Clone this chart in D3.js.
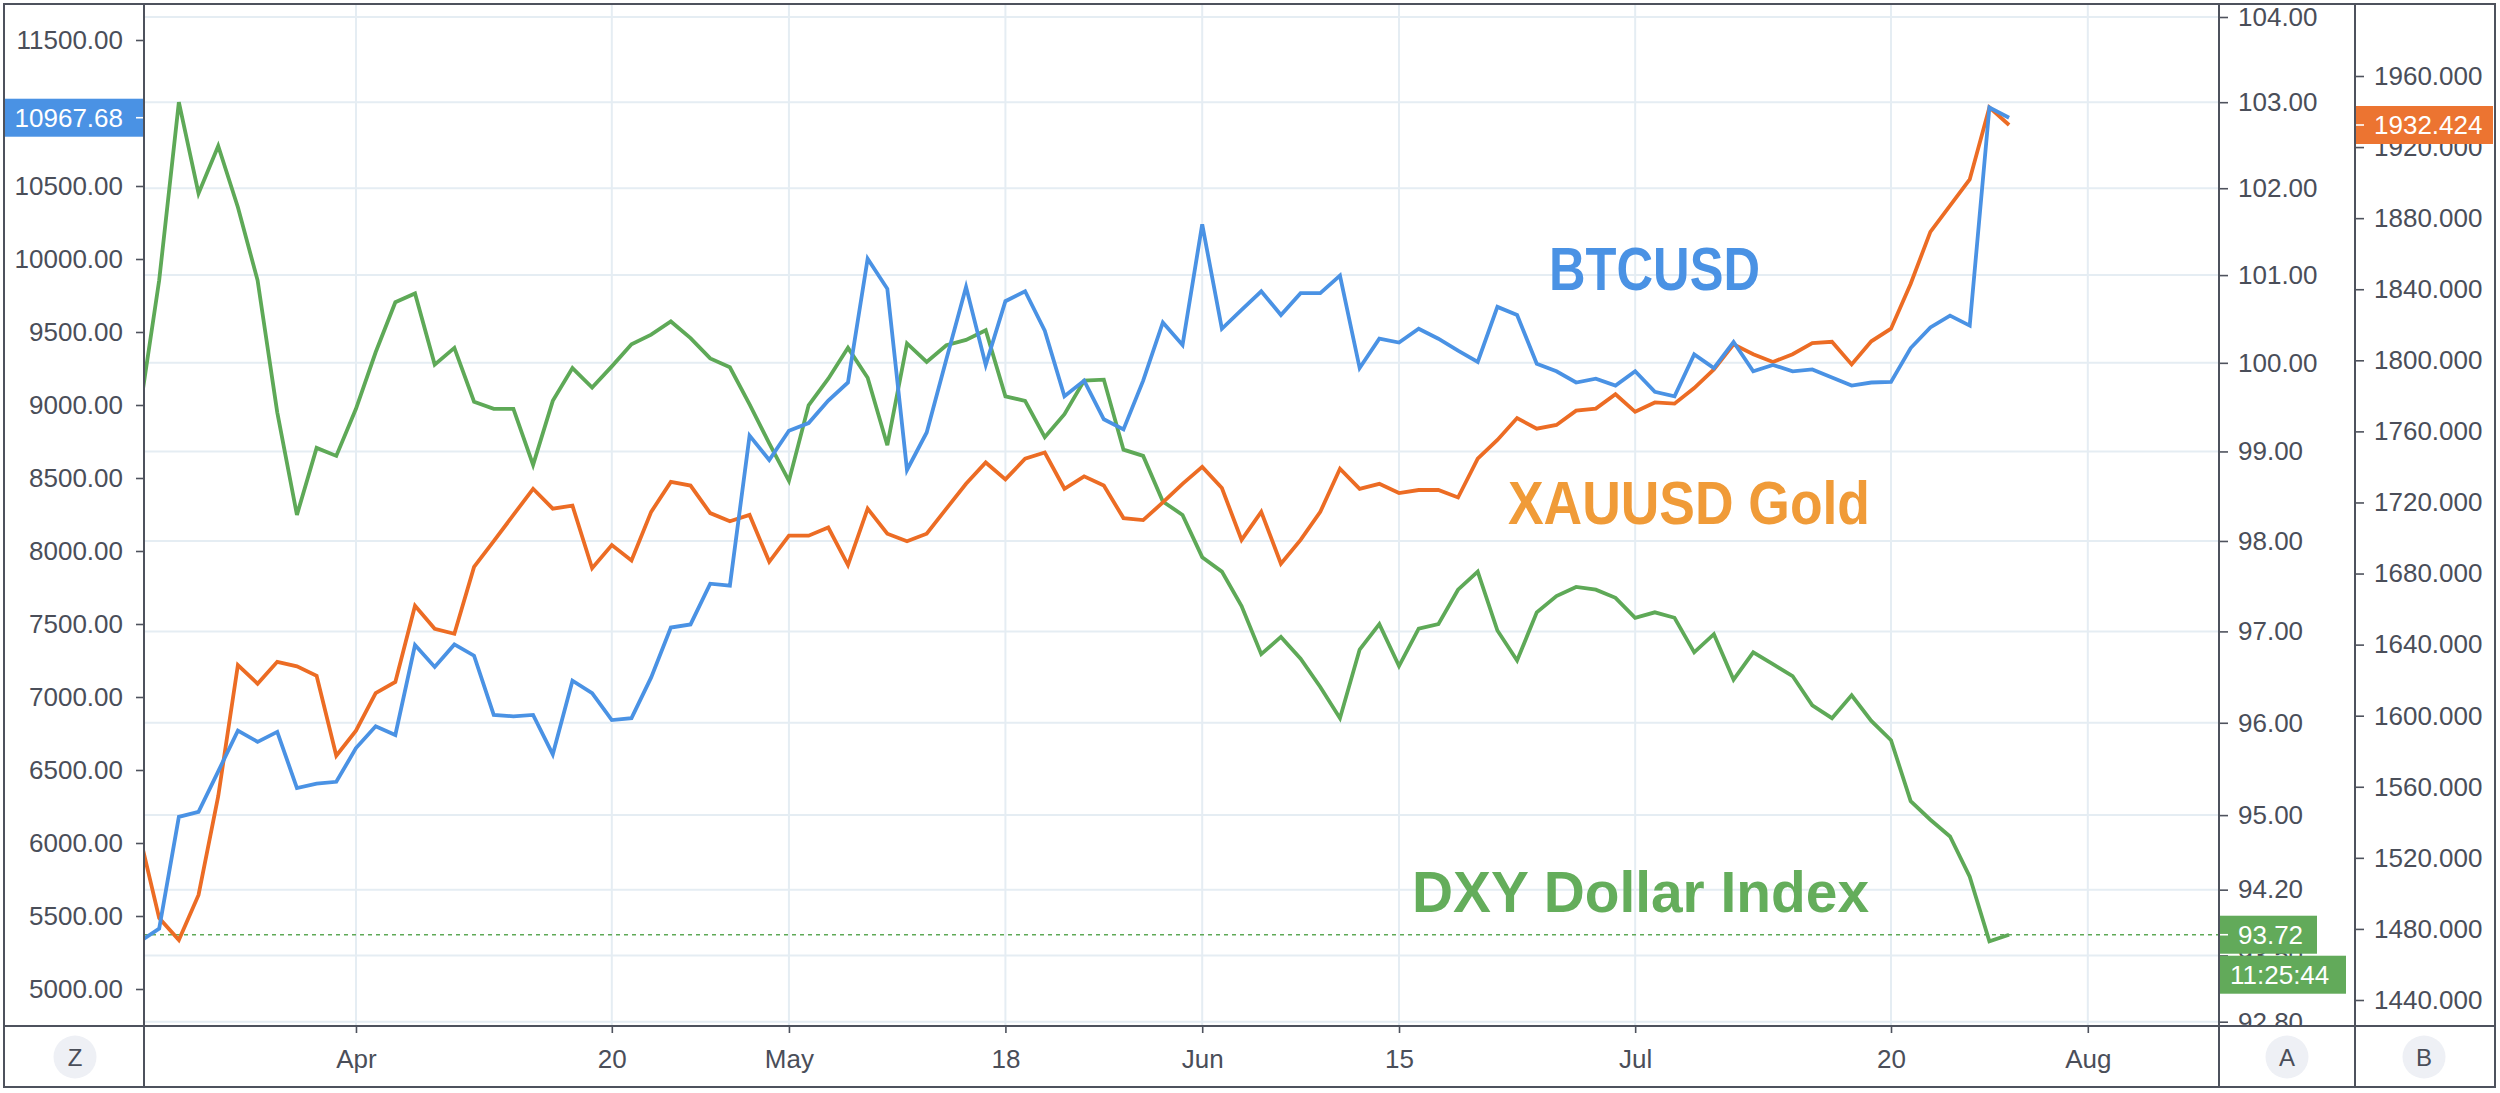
<!DOCTYPE html>
<html><head><meta charset="utf-8">
<script src="https://cdn.jsdelivr.net/npm/d3@7"></script>
<style>
body{margin:0;background:#fff}
svg{display:block}
text{font-family:"Liberation Sans",Arial,sans-serif}
</style>
</head><body>
<svg id="c" width="2500" height="1093"></svg>
<script>
// ---------- DATA ----------
const dates = [
"2020-03-17","2020-03-18","2020-03-19","2020-03-20","2020-03-23","2020-03-24","2020-03-25","2020-03-26","2020-03-27","2020-03-30","2020-03-31",
"2020-04-01","2020-04-02","2020-04-03","2020-04-06","2020-04-07","2020-04-08","2020-04-09","2020-04-10","2020-04-13","2020-04-14","2020-04-15","2020-04-16","2020-04-17","2020-04-20","2020-04-21","2020-04-22","2020-04-23","2020-04-24","2020-04-27","2020-04-28","2020-04-29","2020-04-30",
"2020-05-01","2020-05-04","2020-05-05","2020-05-06","2020-05-07","2020-05-08","2020-05-11","2020-05-12","2020-05-13","2020-05-14","2020-05-15","2020-05-18","2020-05-19","2020-05-20","2020-05-21","2020-05-22","2020-05-25","2020-05-26","2020-05-27","2020-05-28","2020-05-29",
"2020-06-01","2020-06-02","2020-06-03","2020-06-04","2020-06-05","2020-06-08","2020-06-09","2020-06-10","2020-06-11","2020-06-12","2020-06-15","2020-06-16","2020-06-17","2020-06-18","2020-06-19","2020-06-22","2020-06-23","2020-06-24","2020-06-25","2020-06-26","2020-06-29","2020-06-30",
"2020-07-01","2020-07-02","2020-07-03","2020-07-06","2020-07-07","2020-07-08","2020-07-09","2020-07-10","2020-07-13","2020-07-14","2020-07-15","2020-07-16","2020-07-17","2020-07-20","2020-07-21","2020-07-22","2020-07-23","2020-07-24","2020-07-27","2020-07-28",
"2020-07-29","2020-07-30","2020-07-31","2020-08-03"
];

const btcusd = [
5323,5413,6179,6213,6491,6770,6693,6761,6376,6406,6419,
6650,6800,6740,7356,7206,7360,7283,6877,6868,6877,
6607,7112,7027,6842,6855,7134,7476,7497,7776,7763,
8790,8623,8824,8876,9030,9154,10002,9796,8555,8812,
9313,9809,9274,9711,9779,9509,9060,9167,8902,8833,
9167,9565,9411,10237,9522,9651,9779,9616,9766,9766,
9886,9253,9454,9428,9522,9454,9372,9295,9672,9616,
9283,9231,9154,9180,9133,9231,9090,9060,9347,9253,
9432,9231,9274,9231,9244,9188,9133,9154,9158,9390,
9531,9612,9544,11038,10967.68
];

const xauusd = [
1532.9,1486.1,1473.8,1499.1,1554.7,1628.5,1618.0,1630.3,1627.8,1622.5,1577.5,
1591.6,1612.7,1619.0,1661.9,1648.9,1646.1,1683.7,1698.2,1713.0,1727.7,
1716.5,1718.2,1683.0,1696.0,1687.3,1714.7,1731.6,1729.5,1714.0,1709.4,
1713.0,1686.6,1701.3,1701.3,1705.9,1684.8,1716.5,1702.4,1698.2,1702.4,
1716.5,1730.5,1742.5,1733.0,1744.6,1748.1,1727.7,1734.7,1729.5,1711.2,
1710.1,1720.0,1730.5,1740.0,1728.1,1698.9,1714.7,1685.5,1698.9,1714.7,
1739.0,1727.7,1730.5,1725.3,1727.0,1727.0,1722.8,1744.6,1755.2,1767.5,
1761.5,1763.6,1771.7,1772.8,1780.9,1771.0,1776.3,1775.6,1784.4,1794.9,
1809.0,1803.4,1799.1,1803.4,1809.7,1810.4,1797.7,1810.7,1817.8,1843.1,
1872.3,1887.1,1901.8,1942.3,1932.424
];

const dxy = [
99.44,100.94,103.00,101.94,102.49,101.78,100.94,99.44,98.29,99.04,98.95,
99.48,100.12,100.69,100.79,99.98,100.17,99.56,99.48,99.48,98.85,
99.57,99.94,99.72,99.96,100.21,100.32,100.47,100.28,100.05,99.95,
99.53,99.09,98.67,99.52,99.82,100.17,99.83,99.07,100.22,100.01,
100.20,100.26,100.37,99.62,99.57,99.16,99.42,99.80,99.81,99.02,
98.95,98.44,98.29,97.82,97.66,97.28,96.75,96.94,96.70,96.39,
96.05,96.80,97.08,96.62,97.03,97.08,97.46,97.66,97.01,96.68,
97.21,97.39,97.49,97.46,97.37,97.15,97.21,97.15,96.77,96.97,
96.47,96.77,96.64,96.51,96.19,96.05,96.30,96.02,95.81,95.15,
94.95,94.77,94.34,93.65,93.72
];

const btcTicks  = [5000,5500,6000,6500,7000,7500,8000,8500,9000,9500,10000,10500,11500];
const goldTicks = [1440,1480,1520,1560,1600,1640,1680,1720,1760,1800,1840,1880,1920,1960];
const dxyTicks  = [92.8,93.5,94.2,95,96,97,98,99,100,101,102,103,104];
const timeTickDates  = ["2020-04-01","2020-04-20","2020-05-01","2020-05-18","2020-06-01","2020-06-15","2020-07-01","2020-07-20","2020-08-03"];
const timeTickLabels = ["Apr","20","May","18","Jun","15","Jul","20","Aug"];
const seriesNames = ["BTCUSD","XAUUSD Gold","DXY Dollar Index"];
const countdownText = "11:25:44";

// ---------- LAYOUT ----------
const svg = d3.select("#c");
const P = {l:144, r:2219, t:5, b:1026};
const axA = 2219, axB = 2355, frameR = 2495, frameB = 1087;
const C = {
  btc:"#4a92e4", gold:"#ec6c24", dxy:"#5ea957",
  btcText:"#4a92e4", goldText:"#f09b38", dxyText:"#64ad5b",
  btcBox:"#4a92e4", goldBox:"#ec7431", dxyBox:"#62aa5a",
  grid:"#e5edf3", frame:"#4e525d", text:"#4a4e59"
};

const x = d3.scaleLinear().domain([0, 99]).range([139.5, 2087.8]);
const yBtc  = d3.scaleLinear().domain([5000, 11500]).range([989, 40]);
const yGold = d3.scaleLinear().domain([1440, 1960]).range([1000, 76]);
const yDxy  = d3.scaleLog().domain([92.8, 104]).range([1021.7, 17]);

const defs = svg.append("defs");
defs.append("clipPath").attr("id","plot").append("rect")
  .attr("x",P.l).attr("y",P.t).attr("width",P.r-P.l).attr("height",P.b-P.t);
defs.append("clipPath").attr("id","axisL").append("rect")
  .attr("x",4).attr("y",P.t).attr("width",P.l-4).attr("height",P.b-P.t);
defs.append("clipPath").attr("id","axisR").append("rect")
  .attr("x",axA).attr("y",P.t).attr("width",frameR-axA).attr("height",P.b-P.t);

svg.append("rect").attr("width",2500).attr("height",1093).attr("fill","#fff");

// grid
const grid = svg.append("g").attr("clip-path","url(#plot)");
grid.selectAll("line.h").data(dxyTicks).join("line")
  .attr("x1",P.l).attr("x2",P.r)
  .attr("y1",d=>yDxy(d)).attr("y2",d=>yDxy(d))
  .attr("stroke",C.grid).attr("stroke-width",2);
const tickIdx = timeTickDates.map(d=>dates.indexOf(d));
grid.selectAll("line.v").data(tickIdx).join("line")
  .attr("y1",P.t).attr("y2",P.b)
  .attr("x1",d=>x(d)).attr("x2",d=>x(d))
  .attr("stroke",C.grid).attr("stroke-width",2);

// current-value dashed line for DXY
const lastI = dxy.length-1;
svg.append("line").attr("x1",P.l).attr("x2",P.r)
  .attr("y1",yDxy(dxy[lastI])).attr("y2",yDxy(dxy[lastI]))
  .attr("stroke",C.dxy).attr("stroke-width",1.6).attr("stroke-dasharray","4,4");

// series
const lines = svg.append("g").attr("clip-path","url(#plot)");
function drawLine(vals, ys, color){
  lines.append("path").datum(vals)
    .attr("d", d3.line().x((d,i)=>x(i)).y(d=>ys(d)))
    .attr("fill","none").attr("stroke",color).attr("stroke-width",3.8)
    .attr("stroke-linejoin","miter").attr("stroke-miterlimit",4);
}
drawLine(dxy, yDxy, C.dxy);
drawLine(xauusd, yGold, C.gold);
drawLine(btcusd, yBtc, C.btc);

// annotations
function anno(txt, xx, yy, size, len, color){
  svg.append("text").attr("x",xx).attr("y",yy).text(txt)
    .attr("font-family","Lato, 'Open Sans', sans-serif").attr("font-weight",700)
    .attr("font-size",size).attr("fill",color)
    .attr("textLength",len).attr("lengthAdjust","spacingAndGlyphs");
}
anno(seriesNames[0], 1549, 290, 61, 211, C.btcText);
anno(seriesNames[1], 1508, 524, 61, 362, C.goldText);
anno(seriesNames[2], 1412, 912, 58, 457, C.dxyText);

// axes
function styleAxis(g){
  g.select(".domain").remove();
  g.selectAll(".tick line").attr("stroke",C.frame).attr("stroke-width",1.6);
  g.selectAll(".tick text").attr("fill",C.text).attr("font-size",26)
    .attr("font-family","'Liberation Sans', Arial, sans-serif");
}
svg.append("g").attr("clip-path","url(#axisL)").append("g")
  .attr("transform",`translate(${P.l},0)`)
  .call(d3.axisLeft(yBtc).tickValues(btcTicks).tickFormat(d3.format(".2f")).tickSize(8).tickPadding(13))
  .call(styleAxis);
const rClip = svg.append("g").attr("clip-path","url(#axisR)");
rClip.append("g").attr("transform",`translate(${axA},0)`)
  .call(d3.axisRight(yDxy).tickValues(dxyTicks).tickFormat(d3.format(".2f")).tickSize(9).tickPadding(10))
  .call(styleAxis);
rClip.append("g").attr("transform",`translate(${axB},0)`)
  .call(d3.axisRight(yGold).tickValues(goldTicks).tickFormat(d3.format(".3f")).tickSize(9).tickPadding(10))
  .call(styleAxis);
svg.append("g").attr("transform",`translate(0,${P.b})`)
  .call(d3.axisBottom(x).tickValues(tickIdx).tickFormat((d,i)=>timeTickLabels[i]).tickSize(7).tickPadding(17))
  .call(styleAxis);

// current value labels
function valueBox(x0, x1, yc, txt, fill, anchor, tx, tickX0, tickX1){
  const g = svg.append("g");
  g.append("rect").attr("x",x0).attr("y",yc-19).attr("width",x1-x0).attr("height",38).attr("fill",fill);
  if (tickX0 !== undefined)
    g.append("line").attr("x1",tickX0).attr("x2",tickX1).attr("y1",yc).attr("y2",yc)
      .attr("stroke","#fff").attr("stroke-width",1.6);
  g.append("text").attr("x",tx).attr("y",yc).attr("dy","0.35em").attr("text-anchor",anchor)
    .attr("fill","#fff").attr("font-size",26).text(txt);
}
const bl = btcusd[btcusd.length-1], gl = xauusd[xauusd.length-1], dl = dxy[lastI];
valueBox(4, P.l, yBtc(bl), d3.format(".2f")(bl), C.btcBox, "end", 123, 136, 144);
valueBox(axB, 2493, yGold(gl), d3.format(".3f")(gl), C.goldBox, "start", 2374, axB, axB+9);
valueBox(axA, 2317, yDxy(dl), d3.format(".2f")(dl), C.dxyBox, "start", 2238, axA, axA+9);
valueBox(axA, 2346, yDxy(dl)+40, countdownText, C.dxyBox, "start", 2230);

// frame
const fr = svg.append("g").attr("stroke",C.frame).attr("stroke-width",2).attr("fill","none");
fr.append("rect").attr("x",4).attr("y",4).attr("width",frameR-4).attr("height",frameB-4);
[P.l, axA, axB].forEach(v=>fr.append("line").attr("x1",v).attr("x2",v).attr("y1",4).attr("y2",frameB));
fr.append("line").attr("x1",4).attr("x2",frameR).attr("y1",P.b).attr("y2",P.b);

// bottom corner buttons
[["Z",75],["A",2287],["B",2424]].forEach(([t,cx])=>{
  svg.append("circle").attr("cx",cx).attr("cy",1057).attr("r",21.5).attr("fill","#eef0f5");
  svg.append("text").attr("x",cx).attr("y",1057).attr("dy","0.36em").attr("text-anchor","middle")
    .attr("font-size",24).attr("fill",C.text).text(t);
});
</script>
</body></html>
